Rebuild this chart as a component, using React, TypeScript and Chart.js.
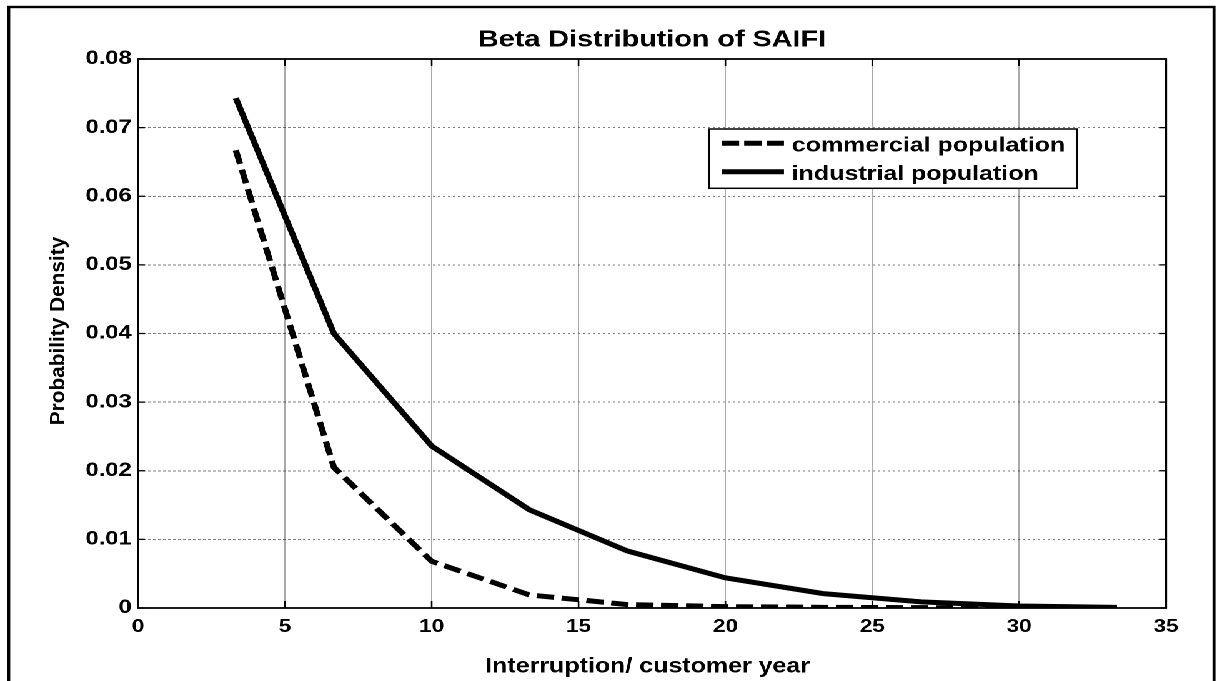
import { useEffect, useRef } from "react";
import { Chart, registerables } from "chart.js";

Chart.register(...registerables);

// Interruption frequency (interruptions per customer-year) at which the densities are sampled
const interruptions = [3.33, 6.67, 10, 13.33, 16.67, 20, 23.33, 26.67, 30, 33.33];
// Beta probability densities of SAIFI
const commercialDensity = [0.0667, 0.0205, 0.0068, 0.0019, 0.0005, 0.0002, 0.0001, 0.00005, 0.00002, 0.0];
const industrialDensity = [0.0743, 0.04, 0.0236, 0.0143, 0.0083, 0.0044, 0.0021, 0.0009, 0.0003, 0.0001];
const seriesLabels = ["commercial population", "industrial population"];
const seriesDash = [[14, 6], []];
const xRange = [0, 35];
const xStep = 5;
const yRange = [0, 0.08];
const yStep = 0.01;
const chartTitle = "Beta Distribution of SAIFI";
const xTitle = "Interruption/ customer year";
const yTitle = "Probability Density";

// The figure is drawn on a narrower canvas and widened horizontally,
// like a figure exported at a wider aspect.
const PAGE_W = 1222;
const PAGE_H = 681;
const CANVAS_W = 978;
const STRETCH = PAGE_W / CANVAS_W;
const FONT = '"Liberation Sans", Arial, Helvetica, sans-serif';

const PLOT_LEFT = 138 / STRETCH;
const PLOT_RIGHT = 1166 / STRETCH;
const PLOT_TOP = 59;
const PLOT_BOTTOM = 608;

type TextOpts = {
  sx?: number;
  sy?: number;
  rotate?: number;
  align?: CanvasTextAlign;
  baseline?: CanvasTextBaseline;
  weight?: string;
};

function drawText(
  ctx: CanvasRenderingContext2D,
  text: string,
  x: number,
  y: number,
  size: number,
  o: TextOpts = {}
) {
  ctx.save();
  ctx.translate(x, y);
  if (o.rotate) ctx.rotate(o.rotate);
  ctx.scale(o.sx ?? 1, o.sy ?? 1);
  ctx.font = `${o.weight ?? "bold"} ${size}px ${FONT}`;
  ctx.fillStyle = "#000";
  ctx.textAlign = o.align ?? "center";
  ctx.textBaseline = o.baseline ?? "alphabetic";
  ctx.fillText(text, 0, 0);
  ctx.restore();
}

function line(ctx: CanvasRenderingContext2D, x1: number, y1: number, x2: number, y2: number) {
  ctx.beginPath();
  ctx.moveTo(x1, y1);
  ctx.lineTo(x2, y2);
  ctx.stroke();
}

const figureDecorations = {
  id: "figureDecorations",
  afterDraw(chart: any) {
    const { ctx, chartArea: a, scales } = chart;
    ctx.save();
    ctx.strokeStyle = "#000";
    ctx.setLineDash([]);

    // outer figure frame
    ctx.lineWidth = 2.4;
    ctx.strokeRect(7, 7, 1214 / STRETCH - 7, PAGE_H + 20);

    // axes box
    ctx.lineWidth = 1.8;
    ctx.strokeRect(a.left, a.top, a.right - a.left, a.bottom - a.top);

    // inward tick marks on all four sides
    ctx.lineWidth = 1.3;
    scales.x.ticks.forEach((t: any) => {
      const px = scales.x.getPixelForValue(t.value);
      line(ctx, px, a.bottom, px, a.bottom - 7);
      line(ctx, px, a.top, px, a.top + 7);
    });
    scales.y.ticks.forEach((t: any) => {
      const py = scales.y.getPixelForValue(t.value);
      line(ctx, a.left, py, a.left + 5.5, py);
      line(ctx, a.right, py, a.right - 5.5, py);
    });

    // title and axis labels
    const cx = (a.left + a.right) / 2;
    drawText(ctx, chartTitle, cx, 46.7, 23);
    drawText(ctx, xTitle, cx - 3.5, 672.5, 21.5, { sx: 0.93 });
    drawText(ctx, yTitle, 51.5, 331, 20, { rotate: -Math.PI / 2, sx: 1.04, sy: 0.84 });

    // legend box
    const lx1 = 709 / STRETCH;
    const lx2 = 1077 / STRETCH;
    const ly1 = 129;
    const ly2 = 188.3;
    ctx.fillStyle = "#fff";
    ctx.fillRect(lx1, ly1, lx2 - lx1, ly2 - ly1);
    ctx.lineWidth = 1.5;
    ctx.strokeRect(lx1, ly1, lx2 - lx1, ly2 - ly1);

    const rows = [143.3, 171.7];
    const baselines = [151.5, 180];
    const sx1 = 721.7 / STRETCH;
    const sx2 = 784 / STRETCH;
    chart.data.datasets.forEach((ds: any, i: number) => {
      ctx.save();
      ctx.lineWidth = 5;
      ctx.lineCap = "butt";
      ctx.setLineDash(ds.borderDash && ds.borderDash.length ? [14, 4] : []);
      line(ctx, sx1, rows[i], sx2, rows[i]);
      ctx.restore();
      drawText(ctx, ds.label, 791.7 / STRETCH, baselines[i], 20, { align: "left" });
    });

    ctx.restore();
  },
};

export default function App() {
  const canvasRef = useRef<HTMLCanvasElement | null>(null);

  useEffect(() => {
    const canvas = canvasRef.current;
    if (!canvas) return;

    const series = [commercialDensity, industrialDensity];
    const datasets = series.map((values, i) => ({
      label: seriesLabels[i],
      data: interruptions.map((x, j) => ({ x, y: values[j] })),
      borderColor: "#000",
      backgroundColor: "#000",
      borderWidth: 5,
      borderDash: seriesDash[i],
      borderCapStyle: "butt" as const,
      borderJoinStyle: "miter" as const,
      pointRadius: 0,
      tension: 0,
      fill: false,
    }));

    const chart = new Chart(canvas, {
      type: "line",
      data: { datasets },
      options: {
        animation: false,
        responsive: false,
        devicePixelRatio: 2,
        layout: {
          padding: { left: 0, right: CANVAS_W - PLOT_RIGHT, top: PLOT_TOP, bottom: 0 },
        },
        plugins: {
          legend: { display: false },
          tooltip: { enabled: false },
          title: { display: false },
        },
        scales: {
          x: {
            type: "linear",
            min: xRange[0],
            max: xRange[1],
            afterFit: (scale: any) => {
              scale.height = PAGE_H - PLOT_BOTTOM;
            },
            ticks: {
              stepSize: xStep,
              padding: 8,
              color: "#000",
              maxRotation: 0,
              font: { family: FONT, size: 18, weight: "bold" },
            },
            grid: {
              color: "rgba(0,0,0,0.42)",
              lineWidth: 0.8,
              drawTicks: false,
            },
            border: { display: false },
          },
          y: {
            type: "linear",
            min: yRange[0],
            max: yRange[1],
            afterFit: (scale: any) => {
              scale.width = PLOT_LEFT;
            },
            ticks: {
              stepSize: yStep,
              padding: 5,
              color: "#000",
              font: { family: FONT, size: 19, weight: "bold" },
              callback: (v: any) => (Number(v) === 0 ? "0" : Number(v).toFixed(2)),
            },
            grid: {
              color: "rgba(0,0,0,0.5)",
              lineWidth: 1,
              drawTicks: false,
            },
            border: { display: false, dash: [2, 2] },
          },
        },
      },
      plugins: [figureDecorations],
    });

    return () => chart.destroy();
  }, []);

  return (
    <div
      style={{
        position: "fixed",
        left: 0,
        top: 0,
        width: CANVAS_W,
        height: PAGE_H,
        transform: `scaleX(${STRETCH})`,
        transformOrigin: "0 0",
        background: "#fff",
        overflow: "hidden",
      }}
    >
      <canvas
        ref={canvasRef}
        width={CANVAS_W}
        height={PAGE_H}
        style={{ display: "block", width: CANVAS_W, height: PAGE_H }}
      />
    </div>
  );
}
